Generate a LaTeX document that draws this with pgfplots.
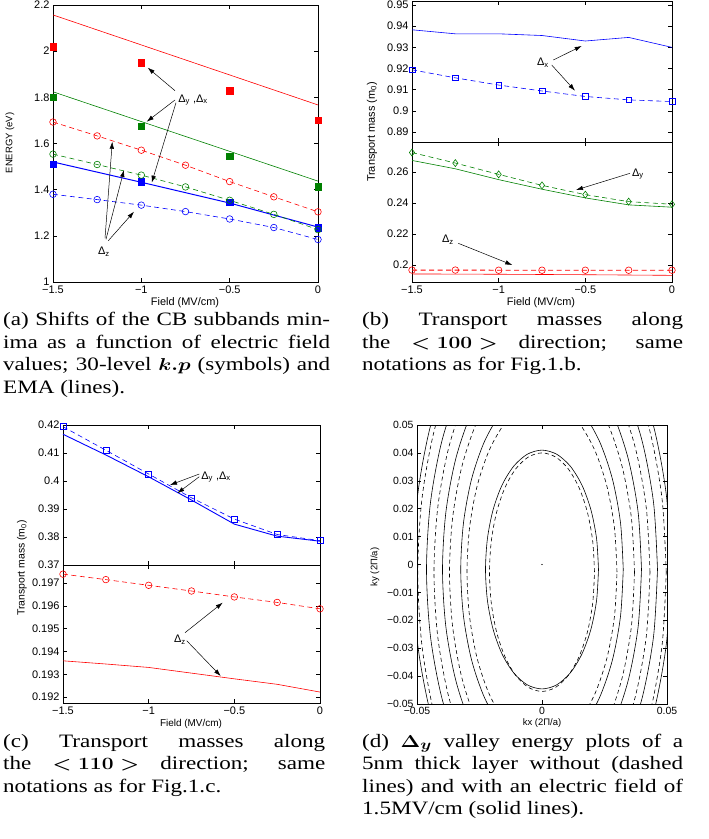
\documentclass[border=0pt]{standalone}
\usepackage{fontspec}
\setmainfont{Liberation Serif}
\newfontfamily\axfont{Liberation Sans}
\usepackage{graphicx}
\usepackage{pgfplots}
\usepackage{pgfplotstable}
\pgfplotsset{compat=1.18}
\usetikzlibrary{arrows.meta}

\definecolor{mred}{rgb}{1,0,0}
\definecolor{mgreen}{rgb}{0,0.5,0}
\definecolor{mblue}{rgb}{0,0,1}

\newcommand{\tkf}{\axfont\fontsize{11}{12}\selectfont}
\newcommand{\capf}{\fontsize{19}{22.6}\selectfont}
\newcommand{\capline}[2]{\scalebox{1.22}[1]{\makebox[#1][s]{#2}}}

\pgfplotsset{
 ml/.style={scale only axis, anchor=north west,
   axis line style={line width=0.9pt},
   tick style={black, line width=0.5pt},
   major tick length=4bp, xtick pos=both, ytick pos=both, tick align=inside,
   tick label style={font=\tkf},
   clip mode=individual, scaled ticks=false,
   xmin=-1.5, xmax=0, xtick={-1.5,-1,-0.5,0}, xticklabels={−1.5,−1,−0.5,0}},
 dsh/.style={dash pattern=on 5bp off 3.5bp},
}

\pgfplotstableread{
c s
1 0
0.9659 0.2588
0.8660 0.5
0.7071 0.7071
0.5 0.8660
0.2588 0.9659
0 1
-0.2588 0.9659
-0.5 0.8660
-0.7071 0.7071
-0.8660 0.5
-0.9659 0.2588
-1 0
-0.9659 -0.2588
-0.8660 -0.5
-0.7071 -0.7071
-0.5 -0.8660
-0.2588 -0.9659
0 -1
0.2588 -0.9659
0.5 -0.8660
0.7071 -0.7071
0.8660 -0.5
0.9659 -0.2588
1 0
}\unitcircle

\begin{document}
\begin{tikzpicture}
\useasboundingbox (0,0) rectangle (709bp,-839bp);

% ---------------- (a)
\begin{axis}[ml, at={(53bp,-5bp)}, width=265bp, height=277bp,
  ymin=1, ymax=2.2, ytick={1,1.2,1.4,1.6,1.8,2,2.2}, yticklabels={1,1.2,1.4,1.6,1.8,2,2.2}]
\addplot[mred, line width=0.6pt] coordinates {(-1.5,2.157)(0,1.767)};
\addplot[mgreen, line width=0.6pt] coordinates {(-1.5,1.824)(0,1.437)};
\addplot[mblue, line width=1pt] coordinates {(-1.5,1.520)(-1,1.432)(-0.5,1.342)(0,1.238)};
\addplot[only marks, mark=square*, mark size=3.2bp, mred] coordinates {(-1.5,2.019)(-1,1.950)(-0.5,1.828)(0,1.701)};
\addplot[only marks, mark=square*, mark size=3.2bp, mgreen] coordinates {(-1.5,1.80)(-1,1.675)(-0.5,1.545)(0,1.413)};
\addplot[only marks, mark=square*, mark size=3.2bp, mblue] coordinates {(-1.5,1.510)(-1,1.434)(-0.5,1.347)(0,1.235)};
\addplot[mred, dsh, line width=0.6pt, mark=o, mark size=3.3bp, mark options={solid}] coordinates {(-1.5,1.693)(-1.25,1.633)(-1,1.571)(-0.75,1.506)(-0.5,1.435)(-0.25,1.369)(0,1.304)};
\addplot[mgreen, dsh, line width=0.6pt, mark=o, mark size=3.3bp, mark options={solid}] coordinates {(-1.5,1.554)(-1.25,1.509)(-1,1.463)(-0.75,1.412)(-0.5,1.354)(-0.25,1.293)(0,1.227)};
\addplot[mblue, dsh, line width=0.6pt, mark=o, mark size=3.3bp, mark options={solid}] coordinates {(-1.5,1.380)(-1.25,1.357)(-1,1.333)(-0.75,1.305)(-0.5,1.273)(-0.25,1.236)(0,1.184)};
\end{axis}

% ---------------- (b) upper
\begin{axis}[ml, at={(412bp,-1bp)}, width=260bp, height=141bp,
  ymin=0.8853, ymax=0.9519, ytick={0.89,0.9,0.91,0.92,0.93,0.94,0.95},
  yticklabels={0.89,0.9,0.91,0.92,0.93,0.94,0.95}, xticklabels={}]
\addplot[mblue, line width=0.6pt] coordinates {(-1.5,0.9383)(-1.25,0.9364)(-1,0.9364)(-0.75,0.9356)(-0.5,0.9330)(-0.25,0.9347)(0,0.9300)};
\addplot[mblue, dsh, line width=0.6pt, mark=square, mark size=2.8bp, mark options={solid}] coordinates {(-1.5,0.9194)(-1.25,0.9156)(-1,0.9122)(-0.75,0.9094)(-0.5,0.9068)(-0.25,0.9052)(0,0.9044)};
\end{axis}
% ---------------- (b) lower
\begin{axis}[ml, at={(412bp,-142bp)}, width=260bp, height=140bp,
  ymin=0.189, ymax=0.2794, ytick={0.2,0.22,0.24,0.26}, yticklabels={0.2,0.22,0.24,0.26}]
\addplot[mgreen, line width=0.6pt] coordinates {(-1.5,0.2675)(-1.25,0.2621)(-1,0.2551)(-0.75,0.2489)(-0.5,0.2433)(-0.25,0.2388)(0,0.2373)};
\addplot[mgreen, dsh, line width=0.6pt, mark=diamond, mark size=3.5bp, mark options={solid}] coordinates {(-1.5,0.2726)(-1.25,0.2658)(-1,0.2585)(-0.75,0.2514)(-0.5,0.2454)(-0.25,0.2409)(0,0.2392)};
\addplot[mred, line width=0.6pt] coordinates {(-1.5,0.1942)(-1,0.1940)(-0.5,0.1937)(-0.25,0.1935)(0,0.1933)};
\addplot[mred, dsh, line width=0.9pt, mark=o, mark size=3.3bp, mark options={solid, line width=0.6pt}] coordinates {(-1.5,0.1967)(-1.25,0.1967)(-1,0.1966)(-0.75,0.1966)(-0.5,0.1966)(-0.25,0.1966)(0,0.1966)};
\end{axis}

% ---------------- (c) upper
\begin{axis}[ml, at={(63bp,-425bp)}, width=257bp, height=140bp,
  ymin=0.37, ymax=0.42, ytick={0.37,0.38,0.39,0.4,0.41,0.42},
  yticklabels={0.37,0.38,0.39,0.4,0.41,0.42}, xticklabels={}]
\addplot[mblue, line width=0.9pt] coordinates {(-1.5,0.4167)(-1.25,0.4093)(-1,0.4015)(-0.75,0.3932)(-0.5,0.3846)(-0.25,0.3803)(0,0.3785)};
\addplot[mblue, dsh, line width=0.6pt, mark=square, mark size=3bp, mark options={solid}] coordinates {(-1.5,0.4194)(-1.25,0.4110)(-1,0.4025)(-0.75,0.3940)(-0.5,0.3864)(-0.25,0.3809)(0,0.3787)};
\end{axis}
% ---------------- (c) lower
\begin{axis}[ml, at={(63bp,-565bp)}, width=257bp, height=138bp,
  ymin=0.19174, ymax=0.19779, ytick={0.192,0.193,0.194,0.195,0.196,0.197},
  yticklabels={0.192,0.193,0.194,0.195,0.196,0.197}]
\addplot[mred, line width=0.6pt] coordinates {(-1.5,0.19359)(-1.25,0.19345)(-1,0.19330)(-0.75,0.19305)(-0.5,0.19280)(-0.25,0.19256)(0,0.19222)};
\addplot[mred, dsh, line width=0.6pt, mark=o, mark size=3.3bp, mark options={solid}] coordinates {(-1.5,0.19739)(-1.25,0.19715)(-1,0.19690)(-0.75,0.19665)(-0.5,0.19639)(-0.25,0.19615)(0,0.19587)};
\end{axis}

% ---------------- (d)
\begin{axis}[ml, at={(417bp,-425bp)}, width=250bp, height=279bp, clip mode=global,
  xmin=-0.05, xmax=0.05, ymin=-0.05, ymax=0.05,
  xtick={-0.05,0,0.05}, xticklabels={−0.05,0,0.05},
  ytick={-0.05,-0.04,-0.03,-0.02,-0.01,0,0.01,0.02,0.03,0.04,0.05},
  yticklabels={−0.05,−0.04,−0.03,−0.02,−0.01,0,0.01,0.02,0.03,0.04,0.05},
  tick label style={font=\axfont\fontsize{10.5}{12}\selectfont}]
% solid contours (with field)
\addplot[black, line width=0.6pt, smooth] table[x expr=0.0226*\thisrow{c}, y expr=-0.0018+0.0428*\thisrow{s}] {\unitcircle};
\addplot[black, line width=0.6pt, smooth] table[x expr=0.0325*\thisrow{c}, y expr=-0.0018+0.0650*\thisrow{s}] {\unitcircle};
\addplot[black, line width=0.6pt, smooth] table[x expr=0.0398*\thisrow{c}, y expr=-0.0018+0.0796*\thisrow{s}] {\unitcircle};
\addplot[black, line width=0.6pt, smooth] table[x expr=0.0462*\thisrow{c}, y expr=-0.0018+0.0924*\thisrow{s}] {\unitcircle};
\addplot[black, line width=0.6pt, smooth] table[x expr=0.0515*\thisrow{c}, y expr=-0.0018+0.1030*\thisrow{s}] {\unitcircle};
% dashed contours (no field)
\addplot[black, line width=0.6pt, smooth, dash pattern=on 4bp off 3bp] table[x expr=0.0210*\thisrow{c}, y expr=-0.00275+0.04275*\thisrow{s}] {\unitcircle};
\addplot[black, line width=0.6pt, smooth, dash pattern=on 4bp off 3bp] table[x expr=0.0300*\thisrow{c}, y expr=-0.00275+0.0615*\thisrow{s}] {\unitcircle};
\addplot[black, line width=0.6pt, smooth, dash pattern=on 4bp off 3bp] table[x expr=0.0370*\thisrow{c}, y expr=-0.00275+0.0758*\thisrow{s}] {\unitcircle};
\addplot[black, line width=0.6pt, smooth, dash pattern=on 4bp off 3bp] table[x expr=0.0432*\thisrow{c}, y expr=-0.00275+0.0886*\thisrow{s}] {\unitcircle};
\addplot[black, line width=0.6pt, smooth, dash pattern=on 4bp off 3bp] table[x expr=0.0497*\thisrow{c}, y expr=-0.00275+0.1020*\thisrow{s}] {\unitcircle};
\addplot[only marks, mark=*, mark size=0.4bp, black] coordinates {(0,0)};
\end{axis}

% ---------------- labels, annotations, captions
\begin{scope}[x=1bp, y=-1bp, >={Latex[length=7bp,width=4.5bp]}]
\node[rotate=90, font=\axfont\fontsize{9.5}{10}\selectfont] at (10,143) {ENERGY (eV)};
\node[font=\tkf] at (185,303) {Field (MV/cm)};
\node[rotate=90, font=\tkf] at (372,132) {Transport mass (m\textsubscript{0})};
\node[font=\tkf] at (541,303) {Field (MV/cm)};
\node[rotate=90, font=\axfont\fontsize{10.5}{11}\selectfont] at (22,568) {Transport mass (m\textsubscript{0})};
\node[font=\axfont\fontsize{10}{11}\selectfont] at (191,724) {Field (MV/cm)};
\node[rotate=90, font=\axfont\fontsize{9.5}{10}\selectfont] at (375,567) {ky (2Π/a)};
\node[font=\axfont\fontsize{9.5}{10}\selectfont] at (542,723) {kx (2Π/a)};

% (a) annotations
\node[font=\tkf] at (193,100) {Δ\textsubscript{y} ,Δ\textsubscript{x}};
\draw[->, line width=0.5pt] (175,90.7) -- (147.7,67.7);
\draw[->, line width=0.5pt] (175,100) -- (146.7,121.7);
\draw[->, line width=0.5pt] (176,102.7) -- (151.7,182.7);
\node[font=\tkf] at (104,252) {Δ\textsubscript{z}};
\draw[->, line width=0.5pt] (105,238.3) -- (112.3,141.7);
\draw[->, line width=0.5pt] (106,239.3) -- (124,170);
\draw[->, line width=0.5pt] (108.3,240.7) -- (134,211.7);
% (b) annotations
\node[font=\tkf] at (543,63) {Δ\textsubscript{x}};
\draw[->, line width=0.5pt] (553.3,60) -- (581.7,46);
\draw[->, line width=0.5pt] (551.7,65) -- (575,90.7);
\node[font=\tkf] at (638,174) {Δ\textsubscript{y}};
\draw[->, line width=0.5pt] (630,173.3) -- (576,190);
\node[font=\tkf] at (448,240) {Δ\textsubscript{z}};
\draw[->, line width=0.5pt] (458.3,243.3) -- (512.3,265);
% (c) annotations
\node[font=\tkf] at (216,477) {Δ\textsubscript{y} ,Δ\textsubscript{x}};
\draw[->, line width=0.5pt] (199.3,474) -- (170,485);
\draw[->, line width=0.5pt] (199.3,476.7) -- (177.3,493.3);
\node[font=\tkf] at (180,640) {Δ\textsubscript{z}};
\draw[->, line width=0.5pt] (185,632.7) -- (222.7,602.7);
\draw[->, line width=0.5pt] (186.7,640.7) -- (220.7,676);

% captions
\begin{scope}[every node/.style={anchor=base west, inner sep=0pt, font=\capf}]
\node at (3,325) {\capline{268bp}{(a) Shifts of the CB subbands min-}};
\node at (3,348) {\capline{268bp}{ima as a function of electric field}};
\node at (3,370) {\capline{268bp}{values; 30-level \mbox{\boldmath$k.p$} (symbols) and}};
\node at (3,393) {\scalebox{1.22}[1]{EMA (lines).}};
\node at (362,325) {\capline{263bp}{(b) Transport masses along}};
\node at (362,348) {\capline{263bp}{the \mbox{\boldmath$<100>$} direction; same}};
\node at (362,370) {\scalebox{1.22}[1]{notations as for Fig.1.b.}};
\node at (3,747) {\capline{264bp}{(c) Transport masses along}};
\node at (3,769) {\capline{264bp}{the \mbox{\boldmath$<110>$} direction; same}};
\node at (3,792) {\scalebox{1.22}[1]{notations as for Fig.1.c.}};
\node at (362,747) {\capline{263bp}{(d) \mbox{\boldmath$\Delta_y$} valley energy plots of a}};
\node at (362,769) {\capline{263bp}{5nm thick layer without (dashed}};
\node at (362,792) {\capline{263bp}{lines) and with an electric field of}};
\node at (362,814) {\scalebox{1.22}[1]{1.5MV/cm (solid lines).}};
\end{scope}
\end{scope}
\end{tikzpicture}
\end{document}
